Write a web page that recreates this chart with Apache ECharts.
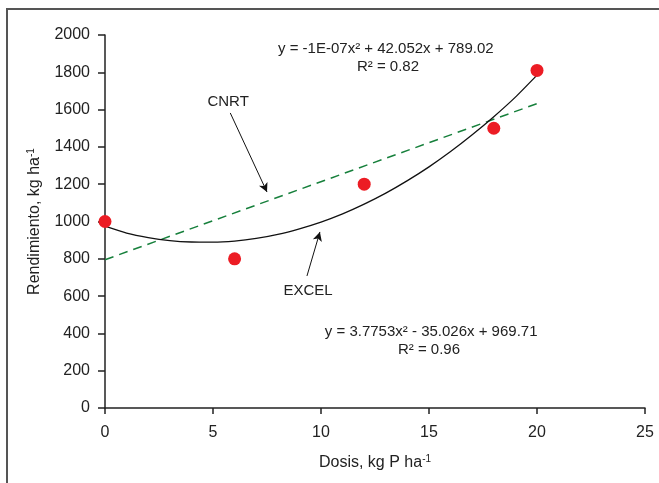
<!DOCTYPE html>
<html>
<head>
<meta charset="utf-8">
<script src="https://cdn.jsdelivr.net/npm/echarts@6/dist/echarts.min.js"></script>
<style>
html, body { margin: 0; padding: 0; background: #fff; }
#chart { width: 659px; height: 483px; }
</style>
</head>
<body>
<div id="chart"></div>
<script>
// datos observados
var dosis = [0, 6, 12, 18, 20];
var rendimiento = [1000, 800, 1200, 1500, 1810];

// curva EXCEL
var excelX = [0, 1, 2, 3, 4, 5, 6, 7, 8, 9, 10, 11, 12, 13, 14, 15, 16, 17, 18, 19, 20];
var excelY = [975, 938, 914, 898, 890, 889, 895, 909, 931, 961, 997, 1041, 1093, 1152, 1219, 1293, 1375, 1465, 1562, 1667, 1785];

// recta CNRT
var cnrtX = [0, 20];
var cnrtY = [795, 1632];

var xTicks = [0, 25, 5];
var yTicks = [0, 2000, 200];

var font = 'Liberation Sans, Arial, sans-serif';

function pairs(xs, ys) {
	var out = [];
	for (var i = 0; i < xs.length; i++) {
		out.push([xs[i], ys[i]]);
	}
	return out;
}

var myChart = echarts.init(document.getElementById('chart'));

var nameRich = {
	n: { fontSize: 16, color: '#222', fontFamily: font, lineHeight: 18 },
	s: { fontSize: 10, color: '#222', fontFamily: font, verticalAlign: 'top', lineHeight: 18 }
};

var option = {
	animation: false,
	textStyle: { fontFamily: font },
	grid: { left: 105, right: 14, top: 35, bottom: 75, containLabel: false },
	xAxis: {
		type: 'value',
		min: xTicks[0], max: xTicks[1], interval: xTicks[2],
		splitLine: { show: false },
		axisLine: { lineStyle: { color: '#222', width: 1.5 } },
		axisTick: { show: true, inside: false, length: 6, lineStyle: { color: '#222', width: 1.5 } },
		axisLabel: { color: '#222', fontSize: 16, margin: 17, fontFamily: font },
		name: '{n|Dosis, kg P ha}{s|-1}',
		nameLocation: 'middle',
		nameGap: 46,
		nameTextStyle: { rich: nameRich }
	},
	yAxis: {
		type: 'value',
		min: yTicks[0], max: yTicks[1], interval: yTicks[2],
		splitLine: { show: false },
		axisLine: { show: true, lineStyle: { color: '#222', width: 1.5 } },
		axisTick: { show: true, inside: false, length: 7, lineStyle: { color: '#222', width: 1.5 } },
		axisLabel: {
			color: '#222', fontSize: 16, margin: 15, fontFamily: font,
			formatter: function (v) { return String(v); }
		},
		name: '{n|Rendimiento, kg ha}{s|-1}',
		nameLocation: 'middle',
		nameGap: 61,
		nameTextStyle: { rich: nameRich }
	},
	series: [{
		name: 'CNRT',
		type: 'line',
		data: pairs(cnrtX, cnrtY),
		symbol: 'none',
		lineStyle: { color: '#17803c', width: 1.5, type: [9, 6] },
		z: 2
	}, {
		name: 'EXCEL',
		type: 'line',
		data: pairs(excelX, excelY),
		smooth: 0.2,
		symbol: 'none',
		lineStyle: { color: '#111', width: 1.3 },
		z: 3,
		markLine: {
			silent: true,
			symbol: ['none', 'arrow'],
			symbolSize: [7, 9],
			label: { show: false },
			lineStyle: { color: '#111', width: 1, type: 'solid' },
			data: [
				[{ coord: [5.8, 1582] }, { coord: [7.5, 1158] }],
				[{ coord: [9.35, 708] }, { coord: [9.95, 944] }]
			]
		}
	}, {
		name: 'datos',
		type: 'scatter',
		data: pairs(dosis, rendimiento),
		symbol: 'circle',
		symbolSize: 13,
		itemStyle: { color: '#ec1c24', opacity: 1 },
		z: 4
	}]
};

myChart.setOption(option, true);

// textos de anotacion
function txt(coord, text, size) {
	var p = myChart.convertToPixel({ gridIndex: 0 }, coord);
	return {
		type: 'text',
		x: p[0], y: p[1],
		style: {
			text: text,
			font: size + 'px ' + font,
			fill: '#222',
			align: 'center',
			verticalAlign: 'middle'
		}
	};
}

myChart.setOption({
	graphic: [{
		type: 'rect',
		shape: { x: 7, y: 9, width: 670, height: 490 },
		style: { fill: 'none', stroke: '#555', lineWidth: 2 },
		silent: true
	},
	txt([5.7, 1640], 'CNRT', 15),
	txt([9.4, 629], 'EXCEL', 15),
	txt([13, 1925], 'y = -1E-07x² + 42.052x + 789.02', 15),
	txt([13.1, 1828], 'R² = 0.82', 15),
	txt([15.1, 406], 'y = 3.7753x² - 35.026x + 969.71', 15),
	txt([15.0, 310], 'R² = 0.96', 15)
	]
});
</script>
</body>
</html>
